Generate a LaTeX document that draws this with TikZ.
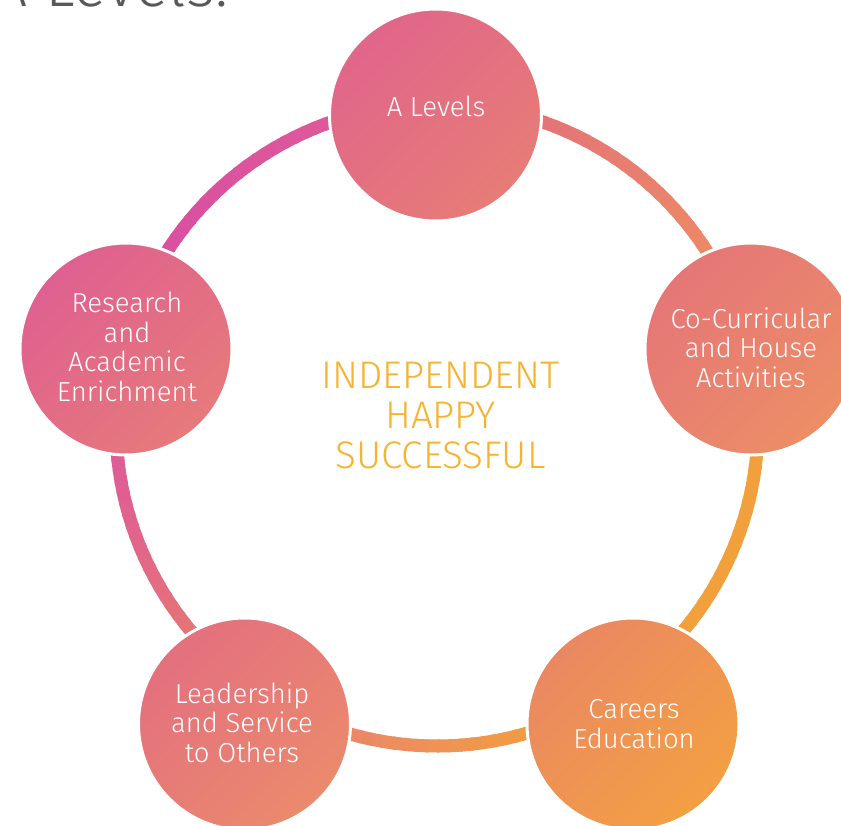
\documentclass[tikz,border=0pt]{standalone}
\usepackage{fontspec}
\setmainfont{Fira Sans Light}
\definecolor{rA}{HTML}{DA529F}
\definecolor{rB}{HTML}{DE5A98}
\definecolor{rC}{HTML}{E47478}
\definecolor{rD}{HTML}{EC8966}
\definecolor{rE}{HTML}{F2A03C}
\definecolor{aTL}{HTML}{E0668A}\definecolor{aBR}{HTML}{E77C76}
\definecolor{rsTL}{HTML}{DF6090}\definecolor{rsBR}{HTML}{E67A7A}
\definecolor{coTL}{HTML}{E57677}\definecolor{coBR}{HTML}{EC8E65}
\definecolor{caTL}{HTML}{EA8862}\definecolor{caBR}{HTML}{F3A042}
\definecolor{leTL}{HTML}{E3707F}\definecolor{leBR}{HTML}{EB8A6C}
\definecolor{gold}{HTML}{F8B32E}
\definecolor{titlegray}{HTML}{595959}
\tikzset{
  ringseg/.style={line width=13pt, line cap=butt},
  bub/.style={circle, draw=white, line width=3pt, minimum size=212pt, inner sep=0pt},
  bubtext/.style={text=white, align=center, font=\fontsize{27.5}{29.7}\selectfont, inner sep=0pt},
}
\begin{document}
\begin{tikzpicture}[x=1pt,y=1pt]
\useasboundingbox (0,0) rectangle (841,-825);
\coordinate (ring) at (437,-425);
% gradient ring
\foreach \a in {0,2,...,358}{
  \pgfmathsetmacro\t{(1+cos(\a+1+35))/2}
  \ifdim\t pt<0.1pt
    \pgfmathtruncatemacro\p{100*\t/0.1}\colorlet{segc}{rB!\p!rA}
  \else\ifdim\t pt<0.36pt
    \pgfmathtruncatemacro\p{100*(\t-0.1)/0.26}\colorlet{segc}{rC!\p!rB}
  \else\ifdim\t pt<0.68pt
    \pgfmathtruncatemacro\p{100*(\t-0.36)/0.32}\colorlet{segc}{rD!\p!rC}
  \else\ifdim\t pt<0.94pt
    \pgfmathtruncatemacro\p{100*(\t-0.68)/0.26}\colorlet{segc}{rE!\p!rD}
  \else
    \colorlet{segc}{rE}
  \fi\fi\fi\fi
  \draw[ringseg, segc] ([shift={(ring)}]\a:321) arc[start angle=\a, end angle=\a+2.6, radius=321];
}
% bubbles
\node[bub, top color=aTL, bottom color=aBR, shading angle=45] (cA) at (435.5,-115) {};
\node[bub, top color=rsTL, bottom color=rsBR, shading angle=45] (cR) at (126,-349) {};
\node[bub, top color=coTL, bottom color=coBR, shading angle=45] (cC) at (751,-349) {};
\node[bub, top color=caTL, bottom color=caBR, shading angle=45] (cCa) at (633,-724) {};
\node[bub, top color=leTL, bottom color=leBR, shading angle=45] (cL) at (244.5,-724) {};
% texts
\node[bubtext] (tA) at (436,-106.5) {A Levels};
\node[bubtext] (tR) at (127,-347) {Research\\and\\Academic\\Enrichment};
\node[bubtext] (tC) at (751,-347.5) {Co-Curricular\\and House\\Activities};
\node[bubtext] (tCa) at (634,-723.8) {Careers\\Education};
\node[bubtext] (tL) at (242,-722.5) {Leadership\\and Service\\to Others};
\node[text=gold, align=center, font=\fontsize{38.5}{40}\selectfont, inner sep=0pt] (mid) at (440.5,-415.5) {INDEPENDENT\\HAPPY\\SUCCESSFUL};
\node[anchor=base east, text=titlegray, font=\fontsize{62}{62}\selectfont, inner sep=0pt] (title) at (228,-6) {A Levels:};
\end{tikzpicture}
\end{document}
